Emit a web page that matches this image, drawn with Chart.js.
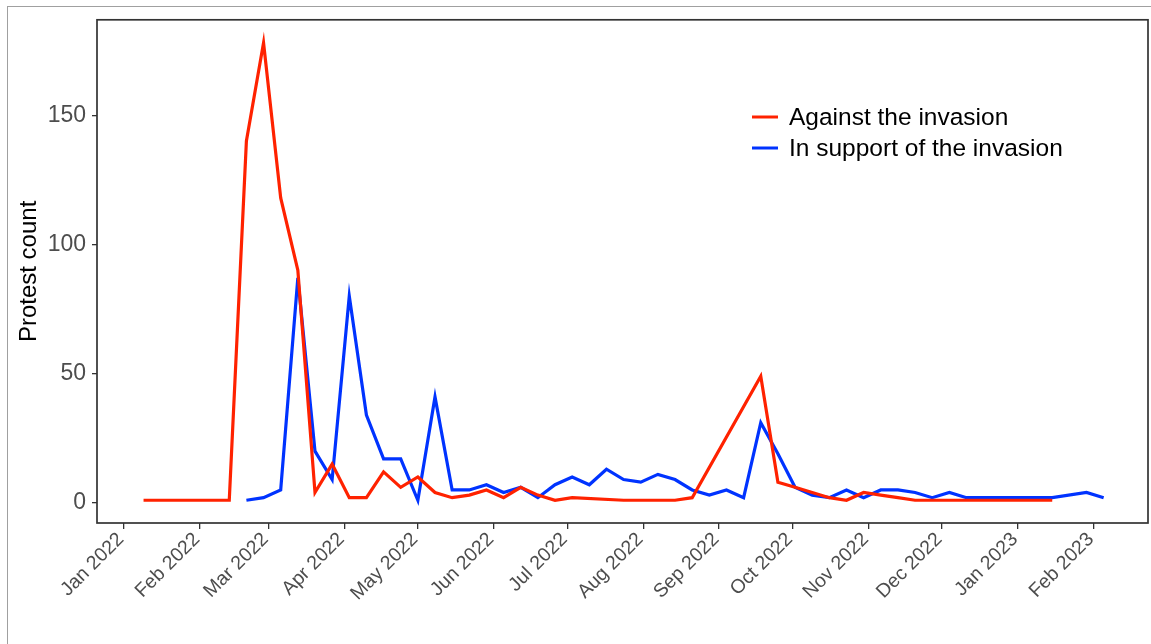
<!DOCTYPE html>
<html><head><meta charset="utf-8">
<script src="https://cdn.jsdelivr.net/npm/chart.js@4.4.0/dist/chart.umd.min.js"></script>
<style>html,body{margin:0;padding:0;background:#fff;}#wrap{position:relative;width:1151px;height:644px;}</style>
</head><body><div id="wrap"><canvas id="c" width="1151" height="644"></canvas></div>
<script>
// ---- data (weekly protest counts, week starting Sunday) ----
const againstWeeks = ["2022-01-09","2022-02-13","2022-02-20","2022-02-27","2022-03-06","2022-03-13","2022-03-20","2022-03-27","2022-04-03","2022-04-10","2022-04-17","2022-04-24","2022-05-01","2022-05-08","2022-05-15","2022-05-22","2022-05-29","2022-06-05","2022-06-12","2022-06-19","2022-06-26","2022-07-03","2022-07-24","2022-07-31","2022-08-07","2022-08-14","2022-08-21","2022-09-18","2022-09-25","2022-10-02","2022-10-16","2022-10-23","2022-10-30","2022-11-06","2022-11-13","2022-11-20","2022-11-27","2022-12-04","2022-12-11","2022-12-18","2022-12-25","2023-01-01","2023-01-08","2023-01-15"];
const againstCounts = [1,1,140,178,118,90,4,15,2,2,12,6,10,4,2,3,5,2,6,3,1,2,1,1,1,1,2,49,8,6,2,1,4,3,2,1,1,1,1,1,1,1,1,1];
const supportWeeks = ["2022-02-20","2022-02-27","2022-03-06","2022-03-13","2022-03-20","2022-03-27","2022-04-03","2022-04-10","2022-04-17","2022-04-24","2022-05-01","2022-05-08","2022-05-15","2022-05-22","2022-05-29","2022-06-05","2022-06-12","2022-06-19","2022-06-26","2022-07-03","2022-07-10","2022-07-17","2022-07-24","2022-07-31","2022-08-07","2022-08-14","2022-08-21","2022-08-28","2022-09-04","2022-09-11","2022-09-18","2022-09-25","2022-10-02","2022-10-09","2022-10-16","2022-10-23","2022-10-30","2022-11-06","2022-11-13","2022-11-20","2022-11-27","2022-12-04","2022-12-11","2022-12-18","2022-12-25","2023-01-01","2023-01-08","2023-01-15","2023-01-29","2023-02-05"];
const supportCounts = [1,2,5,87,20,9,80,34,17,17,1,41,5,5,7,4,6,2,7,10,7,13,9,8,11,9,5,3,5,2,31,19,6,3,2,5,2,5,5,4,2,4,2,2,2,2,2,2,4,2];
const seriesNames = ["Against the invasion","In support of the invasion"];
const tickMonths = ["2022-01-01","2022-02-01","2022-03-01","2022-04-01","2022-05-01","2022-06-01","2022-07-01","2022-08-01","2022-09-01","2022-10-01","2022-11-01","2022-12-01","2023-01-01","2023-02-01"];
const tickLabels = ["Jan 2022","Feb 2022","Mar 2022","Apr 2022","May 2022","Jun 2022","Jul 2022","Aug 2022","Sep 2022","Oct 2022","Nov 2022","Dec 2022","Jan 2023","Feb 2023"];
const yTicks = [0,50,100,150];

const ORIGIN = Date.UTC(2022,0,1);
function dayOf(s){const p=s.split('-').map(Number);return (Date.UTC(p[0],p[1]-1,p[2])-ORIGIN)/86400000;}
function pts(w,c){return w.map((d,i)=>({x:dayOf(d),y:c[i]}));}

const FONT = '"Liberation Sans", Arial, Helvetica, sans-serif';

const framePlugin = {
  id:'framePlugin',
  beforeDraw(chart){
    const ctx=chart.ctx;ctx.save();ctx.fillStyle='#fff';ctx.fillRect(0,0,chart.width,chart.height);
    ctx.strokeStyle='#a0a0a0';ctx.lineWidth=1;ctx.strokeRect(7.5,6.5,chart.width+20,chart.height+20);
    ctx.restore();
  },
  afterDraw(chart){
    const ctx=chart.ctx, a=chart.chartArea;
    ctx.save();
    ctx.strokeStyle='#333';ctx.lineWidth=1.7;
    ctx.strokeRect(a.left,a.top,a.right-a.left,a.bottom-a.top);
    // legend
    const ys=[117,148];
    chart.data.datasets.forEach((ds,i)=>{
      ctx.strokeStyle=ds.borderColor;ctx.lineWidth=3;ctx.lineCap='butt';
      ctx.beginPath();ctx.moveTo(752,ys[i]);ctx.lineTo(778,ys[i]);ctx.stroke();
      ctx.fillStyle='#000';ctx.font='24.5px '+FONT;ctx.textBaseline='middle';ctx.textAlign='left';
      ctx.fillText(ds.label,789,ys[i]+1);
    });
    ctx.restore();
  }
};

new Chart(document.getElementById('c'),{
  type:'line',
  data:{datasets:[
    {label:seriesNames[0],data:pts(againstWeeks,againstCounts),borderColor:'#ff2200',borderWidth:3.2,pointRadius:0,tension:0,fill:false},
    {label:seriesNames[1],data:pts(supportWeeks,supportCounts),borderColor:'#0033ff',borderWidth:3.2,pointRadius:0,tension:0,fill:false}
  ]},
  options:{
    responsive:false,animation:false,
    layout:{padding:{left:0,right:3,top:17,bottom:0}},
    plugins:{legend:{display:false},tooltip:{enabled:false}},
    scales:{
      x:{type:'linear',min:-11,max:418.1,
        afterBuildTicks:s=>{s.ticks=tickMonths.map(m=>({value:dayOf(m)}));},
        afterFit:s=>{s.height=121;},
        ticks:{autoSkip:false,maxRotation:45,minRotation:45,color:'#4d4d4d',font:{family:FONT,size:19.5},padding:-1,labelOffset:-3,
          callback:(v,i)=>tickLabels[i]},
        grid:{drawOnChartArea:false,drawTicks:true,tickLength:6,color:'#333',lineWidth:1.3},
        border:{display:false}
      },
      y:{type:'linear',min:-7.8,max:186.9,
        afterBuildTicks:s=>{s.ticks=yTicks.map(v=>({value:v}));},
        afterFit:s=>{s.width=97;},
        ticks:{color:'#4d4d4d',font:{family:FONT,size:23},padding:6},
        grid:{drawOnChartArea:false,drawTicks:true,tickLength:5,color:'#333',lineWidth:1.3},
        border:{display:false},
        title:{display:true,text:'Protest count',color:'#000',font:{family:FONT,size:24},padding:{top:15,bottom:0}}
      }
    }
  },
  plugins:[framePlugin]
});
</script></body></html>
